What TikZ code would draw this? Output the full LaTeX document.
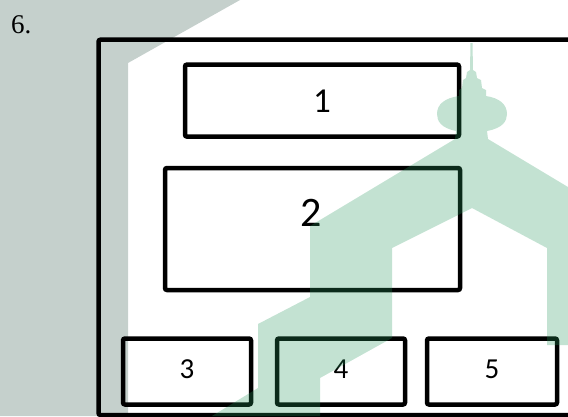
\documentclass[tikz,border=0pt]{standalone}
\usepackage{fontspec}
\setmainfont{Carlito}
\newfontfamily\itemfont{Liberation Serif}
\definecolor{Ink}{HTML}{000000}
\definecolor{Mist}{HTML}{C5D0CC}
\definecolor{Mint}{HTML}{28975E}
\tikzset{
    panel/.style={rectangle, draw=Ink, line width=4.5pt, rounded corners=2pt, inner sep=0pt},
    frameline/.style={draw=Ink, line width=4.5pt, rounded corners=2pt},
    digit/.style={inner sep=0pt, text=Ink},
    stamp/.style={fill=Mint, opacity=0.278},
}

\begin{document}
\begin{tikzpicture}[x=1pt, y=-1pt]
    \useasboundingbox (0,0) rectangle (568,416);
    \clip (0,0) rectangle (568,416);

    % Sfondo grigio (filigrana)
    \fill[Mist] (0,0) -- (240,0) -- (128,63) -- (128,416) -- (0,416) -- cycle;

    % Numero dell'esercizio
    \node[anchor=base west, inner sep=0pt, font=\itemfont\fontsize{27}{27}\selectfont] (num) at (11,33.3) {6.};

    % Cornice esterna (tagliata a destra)
    \draw[frameline] (98.5,415) -- (98.5,39.7) -- (620,39.7) -- (620,415) -- cycle;

    % Riquadri 1 e 2
    \node[panel, minimum width=274pt, minimum height=72pt] (b1) at (322,100.6) {};
    \node[panel, minimum width=295pt, minimum height=122pt] (b2) at (312.5,229) {};
    \node[digit, font=\fontsize{35}{35}\selectfont] (t1) at ([yshift=-1pt]b1.center) {1};
    \node[digit, font=\fontsize{42}{42}\selectfont] (t2) at ([xshift=-1.5pt, yshift=15.7pt]b2.center) {2};

    % Riquadri in basso
    \node[panel, minimum width=128pt, minimum height=66pt] (b3) at (187,371.5) {};
    \node[panel, minimum width=128pt, minimum height=66pt] (b4) at (341,371.5) {};
    \node[panel, minimum width=130pt, minimum height=66pt] (b5) at (492,371.5) {};
    \foreach \k in {3,4,5}
        \node[digit, font=\fontsize{29}{29}\selectfont] (t\k) at ([yshift=2.5pt]b\k.center) {\k};

    % Filigrana verde (moschea)
    \fill[stamp] (455,139) -- (310,226) -- (310,297) -- (258,324) -- (258,388) -- (212,416)
        -- (320,416) -- (320,378) -- (392,338) -- (392,248) -- (472,208) -- (547,248)
        -- (547,345) -- (568,345) -- (568,187) -- (488,139) -- (487,131)
        .. controls (503,128) and (507,121) .. (507,114)
        .. controls (507,104) and (499,98) .. (486,96)
        -- (486,90) -- (482,88) -- (481,80) -- (477,78) -- (476,72) -- (473,70) -- (472.5,43)
        -- (470.5,43) -- (470,70) -- (467,72) -- (466,78) -- (463,80) -- (462,88) -- (459,90) -- (459,96)
        .. controls (445,98) and (437,104) .. (437,114)
        .. controls (437,121) and (441,128) .. (456,131) -- cycle;
\end{tikzpicture}
\end{document}
